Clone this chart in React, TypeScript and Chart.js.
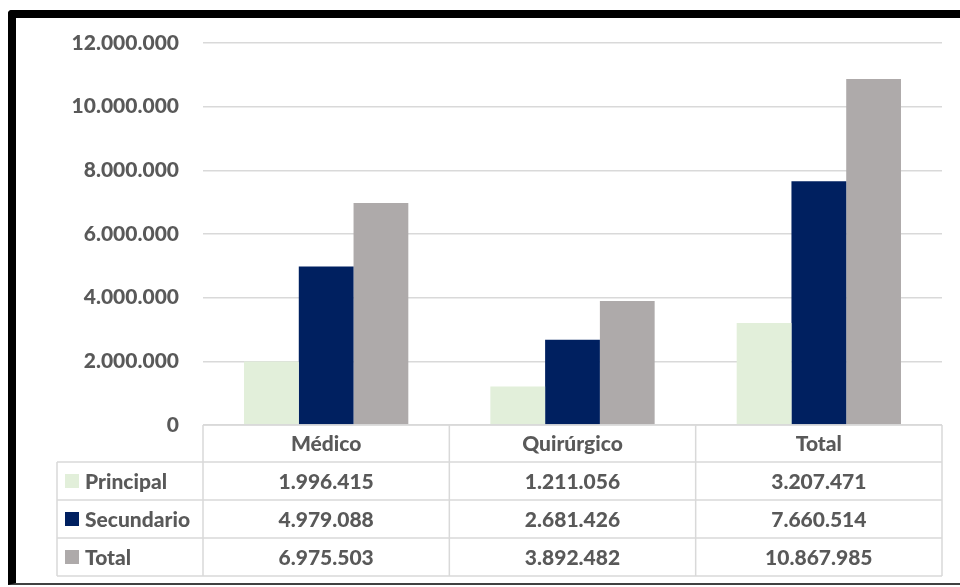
import React, { useEffect, useRef } from "react";
import { Chart, registerables } from "chart.js";

Chart.register(...registerables);

const categories = ["Médico", "Quirúrgico", "Total"];
const seriesNames = ["Principal", "Secundario", "Total"];
const principal = [1996415, 1211056, 3207471];
const secundario = [4979088, 2681426, 7660514];
const total = [6975503, 3892482, 10867985];
const yTicks = [0, 2000000, 4000000, 6000000, 8000000, 10000000, 12000000];

const colors = ["#E2EFDA", "#002060", "#AEAAAA"];
const FONT = "Lato, 'Open Sans', sans-serif";
const WEIGHT = "900";
const SIZE = 21;
const TEXT = "#595959";
const LINE = "#D9D9D9";

const fmt = (v: number) => String(Math.round(v)).replace(/\B(?=(\d{3})+(?!\d))/g, ".");

const tablePlugin = {
  id: "dataTable",
  afterDraw(chart: any) {
    const ctx = chart.ctx as CanvasRenderingContext2D;
    const area = chart.chartArea;
    const x = chart.scales.x;
    const top = area.bottom;
    const headerH = 37;
    const rowH = 38;
    const labelLeft = 57;
    const rows = [principal, secundario, total];
    const n = categories.length;
    const half = (x.getPixelForValue(1) - x.getPixelForValue(0)) / 2;
    const colEdges: number[] = [area.left];
    for (let i = 0; i < n; i++) colEdges.push(x.getPixelForValue(i) + half);
    colEdges[n] = area.right;
    const bottom = top + headerH + rowH * rows.length;

    ctx.save();
    ctx.strokeStyle = LINE;
    ctx.lineWidth = 1.5;
    ctx.beginPath();
    ctx.moveTo(area.left, top);
    ctx.lineTo(area.right, top);
    for (let r = 0; r <= rows.length; r++) {
      const y = top + headerH + rowH * r;
      ctx.moveTo(labelLeft, y);
      ctx.lineTo(area.right, y);
    }
    ctx.moveTo(labelLeft, top + headerH);
    ctx.lineTo(labelLeft, bottom);
    colEdges.forEach((cx) => {
      ctx.moveTo(cx, top);
      ctx.lineTo(cx, bottom);
    });
    ctx.stroke();

    ctx.fillStyle = TEXT;
    ctx.font = `${WEIGHT} ${SIZE}px ${FONT}`;
    ctx.textBaseline = "middle";
    ctx.textAlign = "center";
    for (let i = 0; i < n; i++) {
      const cx = (colEdges[i] + colEdges[i + 1]) / 2;
      ctx.fillText(categories[i], cx, top + headerH / 2 + 1);
      rows.forEach((vals, r) => {
        ctx.fillText(fmt(vals[i]), cx, top + headerH + rowH * r + rowH / 2 + 1);
      });
    }
    ctx.textAlign = "left";
    rows.forEach((_, r) => {
      const cy = top + headerH + rowH * r + rowH / 2;
      ctx.fillStyle = colors[r];
      ctx.fillRect(labelLeft + 8, cy - 7, 14, 14);
      ctx.fillStyle = TEXT;
      ctx.fillText(seriesNames[r], labelLeft + 28, cy + 1);
    });
    ctx.restore();
  },
};

export default function App() {
  const ref = useRef<HTMLCanvasElement>(null);
  useEffect(() => {
    if (!ref.current) return;
    const chart = new Chart(ref.current, {
      type: "bar",
      data: {
        labels: categories,
        datasets: [principal, secundario, total].map((d, i) => ({
          label: seriesNames[i],
          data: d,
          backgroundColor: colors[i],
          borderWidth: 0,
          barPercentage: 1,
          categoryPercentage: 0.667,
        })),
      },
      options: {
        animation: false,
        responsive: false,
        layout: { padding: { left: 0, right: 18, top: 43, bottom: 162 } },
        plugins: { legend: { display: false }, tooltip: { enabled: false } },
        scales: {
          x: { display: false },
          y: {
            min: 0,
            max: 12000000,
            afterBuildTicks: (s: any) => {
              s.ticks = yTicks.map((v) => ({ value: v }));
            },
            afterFit: (s: any) => {
              s.width = 203;
            },
            border: { display: false },
            grid: { color: LINE, lineWidth: 1.5, drawTicks: false },
            ticks: {
              padding: 24,
              color: TEXT,
              font: { family: FONT, size: SIZE, weight: WEIGHT },
              callback: (v: any) => fmt(Number(v)),
            },
          },
        },
      },
      plugins: [tablePlugin],
    });
    return () => chart.destroy();
  }, []);
  return (
    <div style={{ position: "fixed", left: 0, top: 0, width: 960, height: 587, overflow: "hidden", background: "#fff" }}>
      <div
        style={{
          position: "absolute",
          left: 8,
          top: 10,
          width: 1000,
          height: 575,
          borderTop: "8px solid #000",
          borderLeft: "8px solid #000",
          borderBottom: "2px solid #404040",
          borderTopLeftRadius: 4,
          boxSizing: "border-box",
        }}
      />
      <canvas ref={ref} width={960} height={587} style={{ position: "absolute", left: 0, top: 0 }} />
    </div>
  );
}
